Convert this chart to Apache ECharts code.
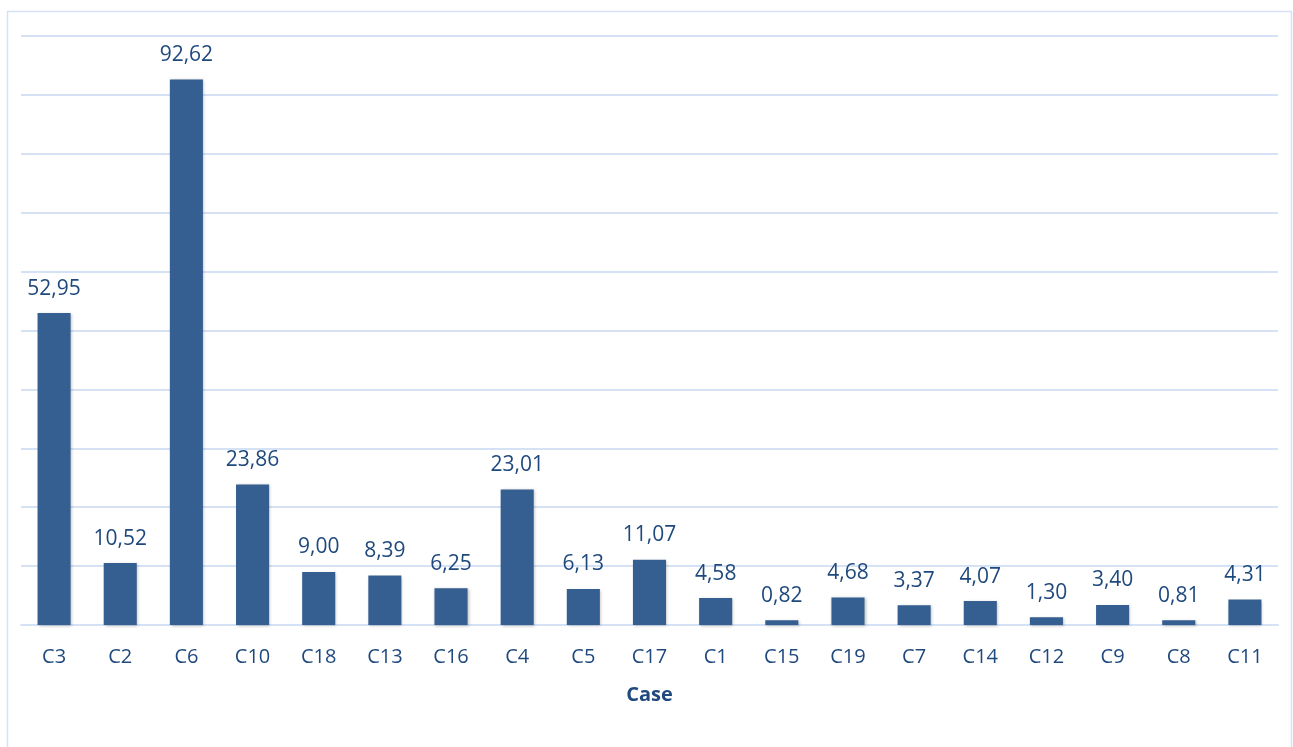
<!DOCTYPE html>
<html>
<head>
<meta charset="utf-8">
<script src="https://cdn.jsdelivr.net/npm/echarts@6/dist/echarts.min.js"></script>
<style>
  html, body { margin: 0; padding: 0; background: #fff; }
  #chart { width: 1293px; height: 747px; }
</style>
</head>
<body>
<div id="chart"></div>
<script>
// Cases in display order and their values
const categories = ['C3','C2','C6','C10','C18','C13','C16','C4','C5','C17','C1','C15','C19','C7','C14','C12','C9','C8','C11'];
const values = [52.95, 10.52, 92.62, 23.86, 9.00, 8.39, 6.25, 23.01, 6.13, 11.07, 4.58, 0.82, 4.68, 3.37, 4.07, 1.30, 3.40, 0.81, 4.31];
const xAxisTitle = 'Case';

const FONT = '"Open Sans", "Liberation Sans", sans-serif';
const TEXT = '#1F497D';
const GRID_LINE = '#D5E2F5';

const chart = echarts.init(document.getElementById('chart'), null, { renderer: 'canvas' });

chart.setOption({
  backgroundColor: '#ffffff',
  animation: false,
  graphic: [{
    type: 'rect',
    shape: { x: 7.5, y: 11.5, width: 1284, height: 760 },
    style: { fill: 'none', stroke: GRID_LINE, lineWidth: 1.5 },
    silent: true,
    z: -1
  }],
  grid: { left: 21, right: 15, top: 36, bottom: 122, containLabel: false },
  xAxis: {
    type: 'category',
    data: categories,
    name: xAxisTitle,
    nameLocation: 'middle',
    nameGap: 60,
    nameTextStyle: { fontFamily: FONT, fontSize: 20, fontWeight: 'bold', color: TEXT },
    axisLine: { show: true, lineStyle: { color: GRID_LINE, width: 2 } },
    axisTick: { show: false },
    axisLabel: { fontFamily: FONT, fontSize: 20, color: TEXT, margin: 22 }
  },
  yAxis: {
    type: 'value',
    min: 0,
    max: 100,
    interval: 10,
    axisLine: { show: false },
    axisTick: { show: false },
    axisLabel: { show: false },
    splitLine: { show: true, lineStyle: { color: GRID_LINE, width: 2 } }
  },
  series: [{
    type: 'bar',
    data: values,
    barWidth: '50%',
    itemStyle: {
      color: '#365F91',
      shadowColor: 'rgba(0,0,0,0.25)',
      shadowBlur: 3,
      shadowOffsetX: 1,
      shadowOffsetY: 1
    },
    label: {
      show: true,
      position: 'top',
      distance: 14,
      fontFamily: FONT,
      fontSize: 21,
      color: TEXT,
      formatter: p => p.value.toFixed(2).replace('.', ',')
    }
  }]
});
</script>
</body>
</html>
